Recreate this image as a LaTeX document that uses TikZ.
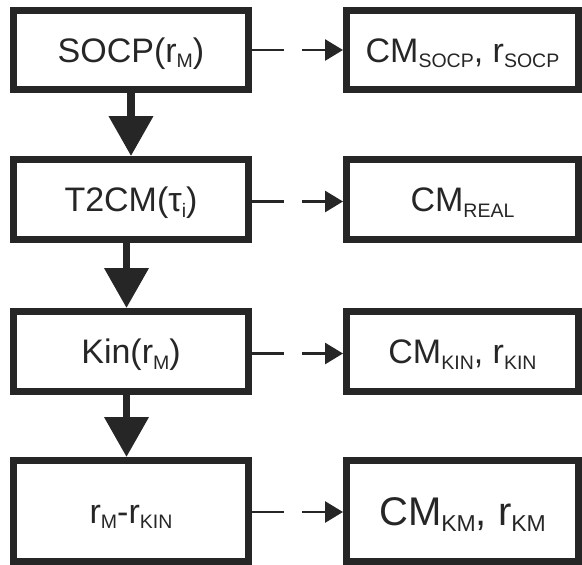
\documentclass[tikz,border=0pt]{standalone}
\usepackage{fontspec}
\setmainfont{Liberation Sans}
\usetikzlibrary{arrows.meta}
\definecolor{ink}{HTML}{262626}
\newcommand\sbs[1]{\raisebox{-0.16em}{\fontsize{19.5}{20}\selectfont #1}}
\newcommand\sbb[1]{\raisebox{-0.16em}{\fontsize{23}{24}\selectfont #1}}
\begin{document}
\begin{tikzpicture}[x=1pt,y=-1pt,
  box/.style={draw=ink, line width=7pt, rectangle, inner sep=0pt, text=ink,
    font=\fontsize{34}{40}\selectfont, text height=24.3pt, text depth=0pt,
    minimum width=235pt, minimum height=80pt},
  rbox/.style={box, minimum width=232pt},
  flow/.style={draw=ink, line width=7.3pt, -{Triangle[length=40pt,width=43pt]}},
  side/.style={draw=ink, line width=2.8pt, dash pattern=on 32pt off 18pt on 300pt,
    -{Triangle[length=18pt,width=21pt]}}]
\useasboundingbox (0,0) rectangle (582,565);
% left column
\node[box, minimum height=79pt] (b1) at (131,50) {SOCP(r\sbs{M})};
\node[box] (b2) at (131,199.5) {T2CM(τ\sbs{i})};
\node[box] (b3) at (131,351.5) {Kin(r\sbs{M})};
\node[box, minimum height=101pt] (b4) at (131,511) {r\sbs{M}-r\sbs{KIN}};
% right column
\node[rbox, minimum height=79pt] (r1) at (462.5,50) {CM\sbs{SOCP}, r\sbs{SOCP}};
\node[rbox] (r2) at (462.5,199.5) {CM\sbs{REAL}};
\node[rbox] (r3) at (462.5,351.5) {CM\sbs{KIN}, r\sbs{KIN}};
\node[rbox, minimum height=101pt, font=\fontsize{40}{46}\selectfont, text height=28.6pt] (r4) at (462.5,511) {CM\sbb{KM}, r\sbb{KM}};
% vertical flow
\draw[flow] (b1.south) -- (b2.north);
\draw[flow] ([xshift=-4.5pt]b2.south) -- ([xshift=-4.5pt]b3.north);
\draw[flow] ([xshift=-4.5pt]b3.south) -- ([xshift=-4.5pt]b4.north);
% side connectors
\draw[side] (b1.east) -- (r1.west);
\draw[side] ([yshift=-2pt]b2.east) -- ([yshift=-2pt]r2.west);
\draw[side] ([yshift=-2pt]b3.east) -- ([yshift=-2pt]r3.west);
\draw[side] ([yshift=-1pt]b4.east) -- ([yshift=-1pt]r4.west);
\end{tikzpicture}
\end{document}
